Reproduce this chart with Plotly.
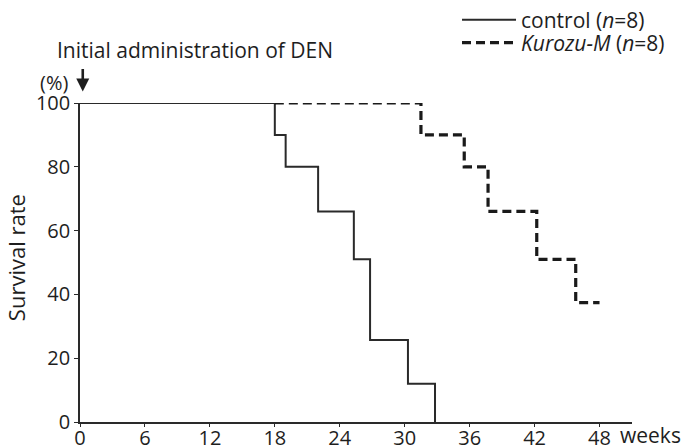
import plotly.graph_objects as go

# Data (weeks, survival %)
control_weeks = [0, 18, 19, 22, 25.3, 26.8, 30.3, 32.8]
control_surv = [100, 90, 80, 66, 51, 25.7, 12, 0]
kurozu_weeks = [18, 31.5, 35.5, 37.7, 42.2, 45.8, 48]
kurozu_surv = [100, 90, 80, 66, 51, 37.4, 37.4]
x_ticks = [0, 6, 12, 18, 24, 30, 36, 42, 48]
y_ticks = [0, 20, 40, 60, 80, 100]

FONT = "Open Sans"
INK = "#1e1e1e"

fig = go.Figure()
fig.add_trace(go.Scatter(
    x=control_weeks, y=control_surv, mode="lines", line_shape="hv",
    line=dict(color="#2a2a2a", width=2),
    name="control (<i>n</i>=8)", cliponaxis=False, legend="legend"))
fig.add_trace(go.Scatter(
    x=kurozu_weeks, y=kurozu_surv, mode="lines", line_shape="hv",
    line=dict(color="#1a1a1a", width=3.2, dash="9px,5px"),
    name="<i>Kurozu-M</i> (<i>n</i>=8)", cliponaxis=False, legend="legend2"))

legend_common = dict(xanchor="left", yanchor="middle", font=dict(size=21, color=INK),
                     bgcolor="rgba(0,0,0,0)", itemwidth=54)

fig.update_layout(
    width=686, height=448,
    margin=dict(l=80, r=54, t=103, b=26, autoexpand=False),
    paper_bgcolor="white", plot_bgcolor="white",
    font=dict(family=FONT, size=19, color=INK),
    showlegend=True,
    legend=dict(x=0.683, y=1.260, **legend_common),
    legend2=dict(x=0.683, y=1.188, **legend_common),
    xaxis=dict(range=[0, 51], tickvals=x_ticks, ticktext=[str(v) for v in x_ticks],
               showline=True, linecolor="#2a2a2a", linewidth=1.6,
               ticks="outside", ticklen=3, tickwidth=1.4, tickcolor="#2a2a2a",
               showgrid=False, zeroline=False, tickfont=dict(size=20),
               ticklabelstandoff=-6, automargin=False),
    yaxis=dict(range=[0, 100], tickvals=y_ticks, ticktext=[str(v) for v in y_ticks],
               showline=True, linecolor="#2a2a2a", linewidth=1.6,
               ticks="outside", ticklen=4, tickwidth=1.4, tickcolor="#2a2a2a",
               showgrid=False, zeroline=False, tickfont=dict(size=20),
               automargin=False),
)

fig.add_annotation(text="Survival rate", xref="paper", yref="paper", x=-0.117, y=0.515,
                   textangle=-90, showarrow=False, font=dict(size=22, color=INK),
                   xanchor="center", yanchor="middle")
fig.add_annotation(text="weeks", xref="paper", yref="paper", x=0.975, y=-0.04,
                   xanchor="left", yanchor="middle", showarrow=False,
                   font=dict(size=21, color=INK))
fig.add_annotation(text="(%)", xref="paper", yref="paper", x=-0.047, y=1.065,
                   xanchor="center", yanchor="middle", showarrow=False,
                   font=dict(size=20, color=INK))
fig.add_annotation(text="Initial administration of DEN", xref="paper", yref="paper",
                   x=-0.045, y=1.165, xanchor="left", yanchor="middle", showarrow=False,
                   font=dict(size=21, color=INK))
fig.add_annotation(text="", x=0.005, y=1.036, xref="paper", yref="paper", ax=0, ay=-24,
                   showarrow=True, arrowhead=2, arrowsize=1, arrowwidth=2.6,
                   arrowcolor=INK)

fig.write_html("out.html", config={"displayModeBar": False},
               post_script="document.body.style.margin='0';")
